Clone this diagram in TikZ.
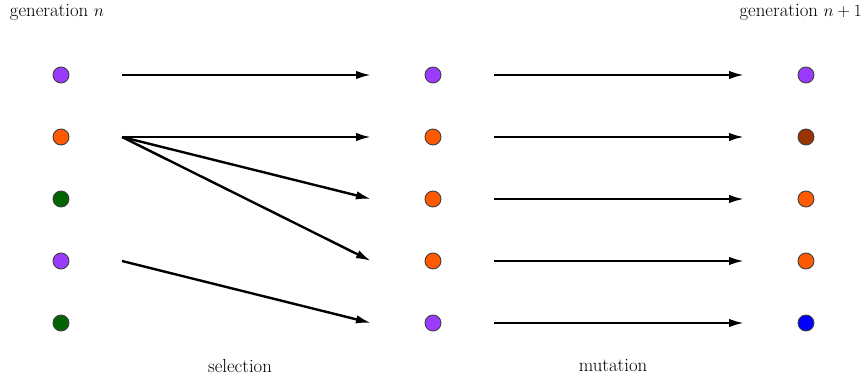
\documentclass[tikz,border=0pt]{standalone}
\usetikzlibrary{arrows.meta}
\definecolor{cpurple}{HTML}{9B3BFF}
\definecolor{corange}{HTML}{FF5A00}
\definecolor{cgreen}{HTML}{006400}
\definecolor{cbrown}{HTML}{993300}
\definecolor{cblue}{HTML}{0000FF}
\definecolor{cedge}{HTML}{404040}
\tikzset{
  dot/.style={circle,draw=cedge,line width=0.9pt,minimum size=16pt,inner sep=0pt},
  conn/.style={line width=2.4pt,-{Latex[length=15pt,width=8.5pt]}},
  lbl/.style={font=\fontsize{18.8}{22}\selectfont,inner sep=0pt}
}
\begin{document}
\begin{tikzpicture}[x=1pt,y=-1pt]
\useasboundingbox (0,0) rectangle (864,377);
% rows
\foreach \i/\y in {1/75,2/137,3/199,4/261,5/323}{
  \coordinate (s\i) at (122,\y);
  \coordinate (e\i) at (371,\y);
  \coordinate (ms\i) at (494,\y);
  \coordinate (me\i) at (744,\y);
}
% generation n
\node[dot,fill=cpurple] (a1) at (61,75) {};
\node[dot,fill=corange] (a2) at (61,137) {};
\node[dot,fill=cgreen]  (a3) at (61,199) {};
\node[dot,fill=cpurple] (a4) at (61,261) {};
\node[dot,fill=cgreen]  (a5) at (61,323) {};
% selected
\node[dot,fill=cpurple] (b1) at (433,75) {};
\node[dot,fill=corange] (b2) at (433,137) {};
\node[dot,fill=corange] (b3) at (433,199) {};
\node[dot,fill=corange] (b4) at (433,261) {};
\node[dot,fill=cpurple] (b5) at (433,323) {};
% generation n+1
\node[dot,fill=cpurple] (c1) at (806,75) {};
\node[dot,fill=cbrown]  (c2) at (806,137) {};
\node[dot,fill=corange] (c3) at (806,199) {};
\node[dot,fill=corange] (c4) at (806,261) {};
\node[dot,fill=cblue]   (c5) at (806,323) {};
% selection arrows
\draw[conn] (s1) -- (e1);
\draw[conn] (s2) -- (e2);
\draw[conn] (s2) -- (e3);
\draw[conn] (s2) -- (e4);
\draw[conn] (s4) -- (e5);
% mutation arrows
\foreach \i in {1,...,5}{ \draw[conn] (ms\i) -- (me\i); }
% labels
\node[lbl] (gn) at (57,12) {generation $n$};
\node[lbl,anchor=east] (gn1) at (862,12) {generation $n+1$};
\node[lbl] (sel) at (240,366) {selection};
\node[lbl] (mut) at (613,366) {mutation};
\end{tikzpicture}
\end{document}
